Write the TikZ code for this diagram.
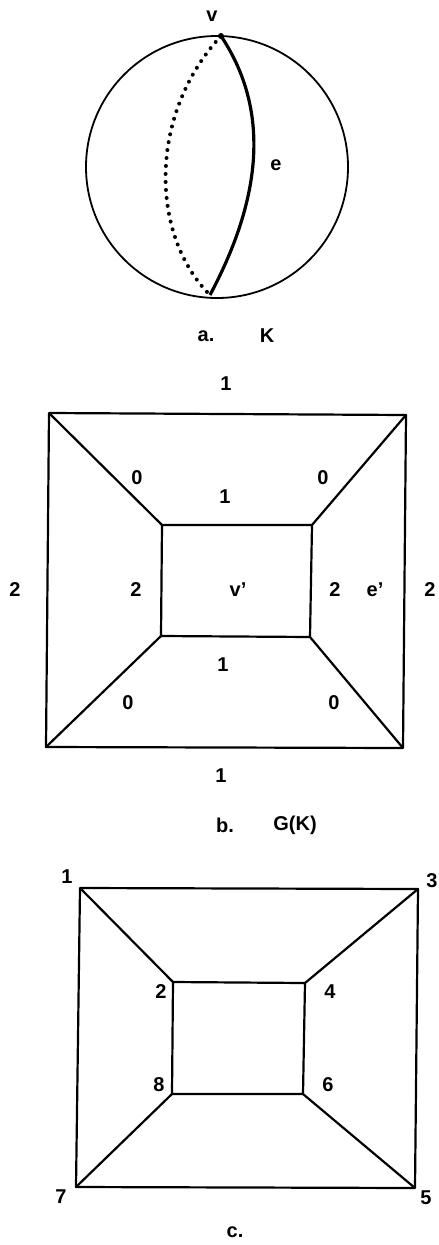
\documentclass[tikz,border=0pt]{standalone}
\usepackage{fontspec}
\setmainfont{Liberation Sans}
\usepackage{tikz}

\begin{document}
\begin{tikzpicture}[x=1pt, y=-1pt, line width=2.2pt, line join=round,
        lbl/.style={font=\fontsize{20}{24}\selectfont\bfseries, inner sep=0pt},
        dotline/.style={line width=4pt, line cap=round, dash pattern=on 0pt off 8pt}]
        \useasboundingbox (0,0) rectangle (439,1245);

        % a. K
        \draw[line width=1.8pt] (217,167) circle (131pt);
        \coordinate (vtop) at (221,36);
        \coordinate (vbot) at (210,295);
        \draw[line width=3.2pt] (vtop) .. controls (267,105) and (266,190) .. (vbot);
        \draw[dotline] (vtop) .. controls (148,115) and (150,235) .. (vbot);
        \fill (vtop) circle (3pt);
        \node[lbl] (v) at (212,16) {v};
        \node[lbl] (e) at (276,165) {e};
        \node[lbl] (alab) at (206,336) {a.};
        \node[lbl] (K) at (267,336) {K};

        % b. G(K)
        \coordinate (bo1) at (49,413);
        \coordinate (bo2) at (406,415);
        \coordinate (bo3) at (403,748);
        \coordinate (bo4) at (46,747);
        \coordinate (bi1) at (162,525);
        \coordinate (bi2) at (312,525);
        \coordinate (bi3) at (310,637);
        \coordinate (bi4) at (161,636);
        \draw (bo1) -- (bo2) -- (bo3) -- (bo4) -- cycle;
        \draw (bi1) -- (bi2) -- (bi3) -- (bi4) -- cycle;
        \draw (bo1) -- (bi1);
        \draw (bo2) -- (bi2);
        \draw (bo3) -- (bi3);
        \draw (bo4) -- (bi4);
        \node[lbl] (btop) at (226,384) {1};
        \node[lbl] (bul) at (137,478) {0};
        \node[lbl] (bur) at (323,478) {0};
        \node[lbl] (bimid) at (225,497) {1};
        \node[lbl] (bleft) at (15,590) {2};
        \node[lbl] (bil) at (136,590) {2};
        \node[lbl] (vp) at (238,590) {v'};
        \node[lbl] (bir) at (335,590) {2};
        \node[lbl] (ep) at (375,590) {e'};
        \node[lbl] (bright) at (430,590) {2};
        \node[lbl] (bibot) at (223,665) {1};
        \node[lbl] (bll) at (128,703) {0};
        \node[lbl] (blr) at (334,703) {0};
        \node[lbl] (bbot) at (221,776) {1};
        \node[lbl] (blab) at (225,825) {b.};
        \node[lbl] (GK) at (295,825) {G(K)};

        % c.
        \coordinate (c1) at (80,888);
        \coordinate (c3) at (418,889);
        \coordinate (c5) at (415,1188);
        \coordinate (c7) at (76,1187);
        \coordinate (c2) at (173,982);
        \coordinate (c4) at (305,983);
        \coordinate (c6) at (303,1094);
        \coordinate (c8) at (172,1094);
        \draw (c1) -- (c3) -- (c5) -- (c7) -- cycle;
        \draw (c2) -- (c4) -- (c6) -- (c8) -- cycle;
        \draw (c1) -- (c2);
        \draw (c3) -- (c4);
        \draw (c5) -- (c6);
        \draw (c7) -- (c8);
        \node[lbl] (n1) at (67,877) {1};
        \node[lbl] (n3) at (432,881) {3};
        \node[lbl] (n2) at (161,992) {2};
        \node[lbl] (n4) at (330,992) {4};
        \node[lbl] (n8) at (159,1085) {8};
        \node[lbl] (n6) at (328,1085) {6};
        \node[lbl] (n7) at (61,1197) {7};
        \node[lbl] (n5) at (426,1198) {5};
        \node[lbl] (clab) at (235,1232) {c.};
    \end{tikzpicture}
\end{document}
